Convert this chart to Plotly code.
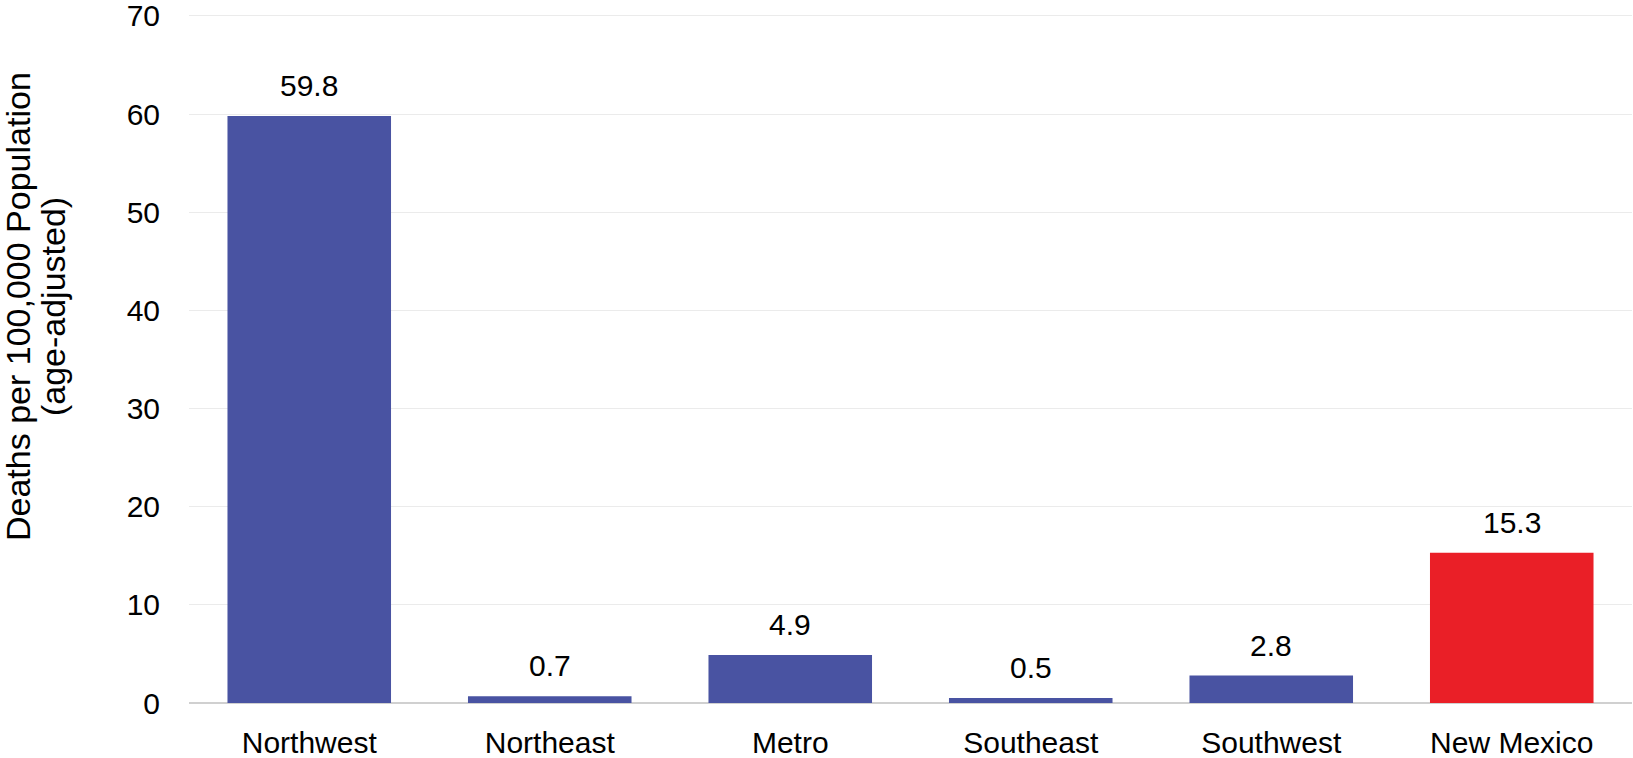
import plotly.graph_objects as go

regions = ["Northwest", "Northeast", "Metro", "Southeast", "Southwest", "New Mexico"]
rates = [59.8, 0.7, 4.9, 0.5, 2.8, 15.3]
labels = ["59.8", "0.7", "4.9", "0.5", "2.8", "15.3"]
bar_colors = ["#4953A2", "#4953A2", "#4953A2", "#4953A2", "#4953A2", "#EA1F27"]
y_ticks = [0, 10, 20, 30, 40, 50, 60, 70]
title_lines = ["Deaths per 100,000 Population", "(age-adjusted)"]

FONT = "Liberation Sans, Arial, sans-serif"

fig = go.Figure()
fig.add_trace(go.Bar(
    x=regions, y=rates,
    marker=dict(color=bar_colors, line=dict(width=0)),
    hoverinfo="x+y",
))

for r, v, t in zip(regions, rates, labels):
    fig.add_annotation(x=r, y=v, text=t, showarrow=False, yanchor="bottom",
                       yshift=12, font=dict(family=FONT, size=30, color="#000000"))

# y-axis title, two rotated lines (plot area 12..703 px)
title_y = (703 - 307) / 691
for xp, line in zip([-0.1185, -0.0942], title_lines):
    fig.add_annotation(xref="paper", yref="paper", x=xp, y=title_y, text=line,
                       textangle=-90, showarrow=False, xanchor="center", yanchor="middle",
                       font=dict(family=FONT, size=34, color="#000000"))

fig.update_layout(
    width=1633, height=758,
    margin=dict(l=189, r=1, t=12, b=55, autoexpand=False),
    paper_bgcolor="white", plot_bgcolor="white",
    bargap=0.32,
    showlegend=False,
    font=dict(family=FONT, size=30, color="#000000"),
    xaxis=dict(
        showgrid=False, showline=False, ticks="", automargin=False,
        ticklabelstandoff=19,
        tickfont=dict(family=FONT, size=30, color="#000000"),
    ),
    yaxis=dict(
        range=[0, 70.4], tickvals=y_ticks, ticktext=[str(v) for v in y_ticks],
        showgrid=True, gridcolor="#EBEBEB", gridwidth=1,
        zeroline=True, zerolinecolor="#D0D0D0", zerolinewidth=2,
        showline=False, ticks="", ticklabelstandoff=28, automargin=False,
        ticklabeloverflow="allow",
        tickfont=dict(family=FONT, size=30, color="#000000"),
    ),
)

fig.write_html("out.html", config={"displayModeBar": False},
               post_script="document.body.style.margin='0';")
